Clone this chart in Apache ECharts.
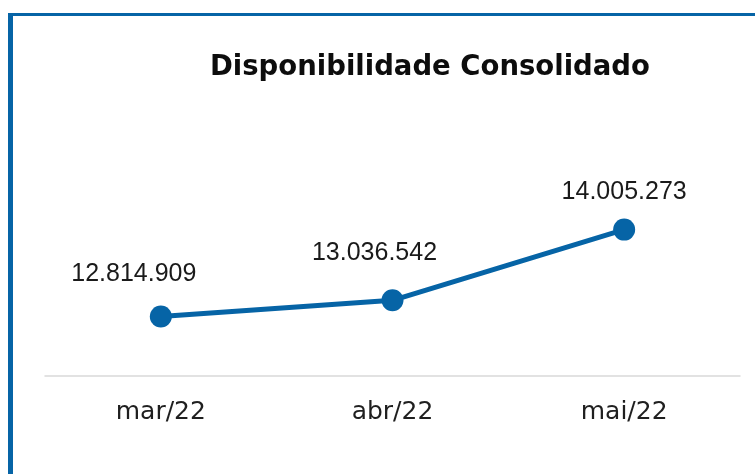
<!DOCTYPE html>
<html>
<head>
<meta charset="utf-8">
<script src="https://cdn.jsdelivr.net/npm/echarts@6/dist/echarts.min.js"></script>
<style>
  html, body { margin: 0; padding: 0; background: #fff; }
  #main { width: 755px; height: 474px; }
</style>
</head>
<body>
<div id="main"></div>
<script>
var myChart = echarts.init(document.getElementById('main'));

var categories = ['mar/22', 'abr/22', 'mai/22'];
var values = [12814909, 13036542, 14005273];

var blue = '#0664a6';
// label nudges, one per point
var labelShift = [[-27, -42], [-18, -47], [0, -38]];

function fmt(v) {
    return String(v).replace(/\B(?=(\d{3})+(?!\d))/g, '.');
}

option = {
    backgroundColor: '#fff',
    animation: false,
    title: {
        text: 'Disponibilidade Consolidado',
        left: 205,
        top: 49,
        textStyle: {
            fontFamily: 'DejaVu Sans',
            fontSize: 27.5,
            fontWeight: 'bold',
            color: '#0d0d0d'
        }
    },
    graphic: [
        { type: 'rect', shape: { x: 8, y: 13, width: 5, height: 461 }, style: { fill: blue } },
        { type: 'rect', shape: { x: 8, y: 13, width: 747, height: 3 }, style: { fill: blue } }
    ],
    grid: { left: 45, right: 15, top: 157, bottom: 98 },
    xAxis: {
        type: 'category',
        data: categories,
        boundaryGap: true,
        axisLine: { lineStyle: { color: '#d9d9d9', width: 1.5 } },
        axisTick: { show: false },
        axisLabel: {
            margin: 24,
            fontFamily: 'DejaVu Sans',
            fontSize: 25,
            color: '#1f1f1f'
        }
    },
    yAxis: {
        type: 'value',
        min: 12000000,
        max: 15000000,
        show: false,
        splitLine: { show: false }
    },
    series: [
        {
            type: 'line',
            data: values.map(function (v, i) {
                return { value: v, label: { offset: labelShift[i] } };
            }),
            symbol: 'circle',
            symbolSize: 22,
            lineStyle: { color: blue, width: 5 },
            itemStyle: { color: blue },
            label: {
                show: true,
                position: 'inside',
                fontFamily: 'Liberation Sans',
                fontSize: 25,
                color: '#1a1a1a',
                formatter: function (p) { return fmt(p.value); }
            }
        }
    ]
};
myChart.setOption(option);
</script>
</body>
</html>
